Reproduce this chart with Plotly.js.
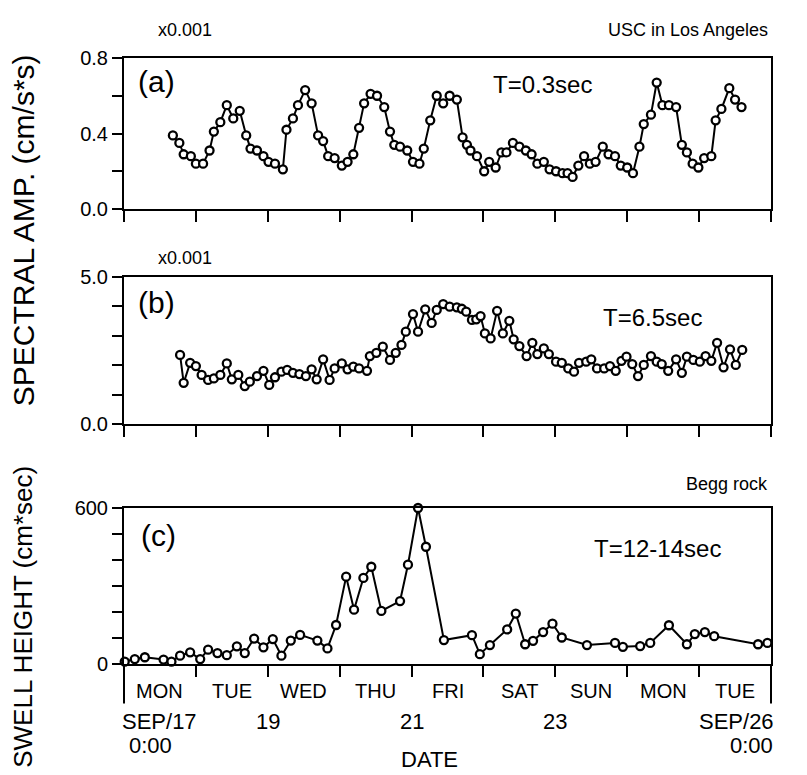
<!DOCTYPE html>
<html>
<head>
<meta charset="utf-8">
<script src="https://cdn.plot.ly/plotly-3.0.1.min.js"></script>
<style>html,body{margin:0;padding:0;background:#fff;}#chart{width:807px;height:775px;}</style>
</head>
<body>
<div id="chart"></div>
<script>
// x values in days since SEP/17 0:00
const aDay = [0.68,0.77,0.83,0.93,1.00,1.10,1.19,1.25,1.34,1.43,1.52,1.61,1.70,1.76,1.85,1.94,2.01,2.10,2.21,2.26,2.35,2.42,2.52,2.61,2.70,2.77,2.84,2.93,3.03,3.11,3.19,3.27,3.34,3.43,3.52,3.62,3.70,3.76,3.84,3.94,4.02,4.11,4.17,4.26,4.35,4.44,4.53,4.63,4.71,4.77,4.82,4.91,5.01,5.08,5.17,5.25,5.32,5.41,5.50,5.59,5.67,5.75,5.84,5.92,6.01,6.10,6.17,6.24,6.32,6.40,6.48,6.56,6.66,6.74,6.83,6.91,7.00,7.08,7.17,7.23,7.33,7.41,7.49,7.58,7.68,7.76,7.83,7.91,7.99,8.07,8.17,8.23,8.31,8.42,8.50,8.59];
const aVal = [0.39,0.35,0.29,0.28,0.24,0.24,0.31,0.41,0.46,0.55,0.48,0.52,0.39,0.32,0.31,0.28,0.25,0.24,0.21,0.42,0.48,0.55,0.63,0.56,0.39,0.36,0.28,0.27,0.23,0.25,0.29,0.43,0.56,0.61,0.60,0.54,0.41,0.34,0.33,0.31,0.25,0.24,0.32,0.47,0.60,0.56,0.60,0.58,0.38,0.34,0.31,0.28,0.20,0.25,0.22,0.30,0.30,0.35,0.33,0.31,0.29,0.24,0.25,0.21,0.20,0.19,0.19,0.17,0.23,0.28,0.24,0.25,0.33,0.29,0.28,0.23,0.22,0.19,0.33,0.45,0.50,0.67,0.55,0.55,0.54,0.34,0.30,0.24,0.22,0.27,0.28,0.47,0.53,0.64,0.58,0.54];

const bDay = [0.78,0.83,0.92,1.00,1.08,1.17,1.25,1.34,1.43,1.50,1.59,1.68,1.75,1.85,1.94,2.02,2.10,2.19,2.27,2.35,2.44,2.53,2.61,2.68,2.77,2.86,2.93,3.03,3.11,3.19,3.27,3.38,3.42,3.51,3.60,3.70,3.78,3.86,3.92,4.02,4.09,4.19,4.28,4.35,4.44,4.53,4.63,4.70,4.76,4.84,4.90,4.96,5.02,5.10,5.19,5.27,5.36,5.42,5.50,5.60,5.68,5.75,5.84,5.91,6.01,6.09,6.18,6.26,6.33,6.43,6.50,6.58,6.68,6.76,6.84,6.92,6.99,7.07,7.15,7.23,7.33,7.41,7.48,7.57,7.68,7.76,7.83,7.92,8.01,8.09,8.17,8.25,8.34,8.43,8.51,8.60];
const bVal = [2.35,1.40,2.08,1.97,1.67,1.50,1.55,1.67,2.06,1.52,1.67,1.29,1.44,1.63,1.81,1.33,1.59,1.78,1.84,1.74,1.70,1.63,1.86,1.52,2.20,1.50,1.89,2.06,1.86,1.95,1.89,1.81,2.31,2.42,2.63,2.18,2.42,2.69,3.14,3.74,3.14,3.90,3.44,3.88,4.08,3.99,3.97,3.92,3.82,3.54,3.56,3.67,3.08,2.91,3.85,3.08,3.51,2.88,2.65,2.31,2.76,2.38,2.57,2.38,2.12,2.08,1.89,1.78,2.08,2.12,2.20,1.89,1.89,1.97,1.81,2.15,2.29,2.04,1.63,2.01,2.31,2.12,2.04,1.81,2.20,1.74,2.29,2.18,2.12,2.31,2.15,2.76,1.93,2.54,2.01,2.52];

const cDay = [0.01,0.15,0.29,0.55,0.66,0.78,0.92,1.06,1.17,1.30,1.43,1.57,1.68,1.81,1.94,2.07,2.19,2.32,2.45,2.69,2.83,2.95,3.09,3.20,3.33,3.44,3.58,3.84,3.95,4.09,4.20,4.45,4.84,4.95,5.09,5.33,5.45,5.58,5.69,5.83,5.96,6.09,6.44,6.83,6.94,7.18,7.32,7.58,7.83,7.94,8.08,8.21,8.82,8.95];
const cVal = [9,19,26,17,9,32,45,19,55,42,34,68,42,98,64,96,32,90,112,90,60,150,336,209,331,374,204,242,382,600,451,92,111,38,73,133,194,76,89,123,155,102,73,81,66,69,81,149,76,115,123,107,76,81];

const dayTicks = [0,1,2,3,4,5,6,7,8,9];
const dayNames = ['MON','TUE','WED','THU','FRI','SAT','SUN','MON','TUE'];
const dateLabels = [[0.49,'SEP/17'],[2,'19'],[4,'21'],[6,'23']];

const aTicks = [0,0.2,0.4,0.6,0.8], aTickText = ['0.0','','0.4','','0.8'];
const bTicks = [0,1,2,3,4,5], bTickText = ['0.0','','','','','5.0'];
const cTicks = [0,100,200,300,400,500,600], cTickText = ['0','','','','','','600'];

const FONT = 'Liberation Sans, Arial, Helvetica, sans-serif';
const marker = {symbol:'circle', size:8, color:'#fff', line:{color:'#000', width:2.3}};
const line = {color:'#000', width:2};

const traces = [
  {x:aDay, y:aVal, xaxis:'x', yaxis:'y', mode:'lines+markers', line, marker, cliponaxis:false},
  {x:bDay, y:bVal, xaxis:'x2', yaxis:'y2', mode:'lines+markers', line, marker, cliponaxis:false},
  {x:cDay, y:cVal, xaxis:'x3', yaxis:'y3', mode:'lines+markers', line, marker, cliponaxis:false}
];

function xax(anchor){
  return {anchor, domain:[0,1], range:[0,9], tickvals:dayTicks, showticklabels:false,
    ticks:'outside', ticklen:11, tickwidth:2, tickcolor:'#000',
    showline:true, linewidth:2, linecolor:'#000', mirror:true,
    showgrid:false, zeroline:false, fixedrange:true};
}
function yax(anchor, domain, range, tv, tt){
  return {anchor, domain, range, tickvals:tv, ticktext:tt,
    ticks:'outside', ticklen:10, tickwidth:2, tickcolor:'#000',
    showline:true, linewidth:2, linecolor:'#000', mirror:true,
    showgrid:false, zeroline:false, tickfont:{size:20, color:'#000', family:FONT}};
}

const ann = [];
function A(text, x, y, size, opts){
  ann.push(Object.assign({text, x, y, xref:'paper', yref:'paper', showarrow:false,
    xanchor:'center', yanchor:'middle', font:{size, color:'#000', family:FONT}}, opts||{}));
}
// headers
A('x0.001', 0.094, 1.046, 18);
A('USC in Los Angeles', 0.998, 1.046, 18, {xanchor:'right'});
A('x0.001', 0.094, 0.670, 18);
A('Begg rock', 0.998, 0.297, 18, {xanchor:'right'});
// panel labels
A('(a)', 0.051, 0.962, 30);
A('(b)', 0.051, 0.597, 30);
A('(c)', 0.053, 0.212, 30);
A('T=0.3sec', 0.6476, 0.957, 24);
A('T=6.5sec', 0.8176, 0.5726, 24);
A('T=12-14sec', 0.825, 0.191, 24);
// y titles
A('SPECTRAL AMP. (cm/s*s)', -0.156, 0.716, 30, {textangle:-90});
A('SWELL HEIGHT (cm*sec)', -0.156, 0.078, 26, {textangle:-90});
// x labels
dayNames.forEach((d,i)=>{
  ann.push({text:d, x:i+0.5, y:-0.0446, xref:'x3', yref:'paper', showarrow:false,
    xanchor:'center', yanchor:'middle', font:{size:20, color:'#000', family:FONT}});
});
dateLabels.forEach(([x,t])=>{
  ann.push({text:t, x, y:-0.0957, xref:'x3', yref:'paper', showarrow:false,
    xanchor:'center', yanchor:'middle', font:{size:22, color:'#000', family:FONT}});
});
ann.push({text:'0:00', x:0.375, y:-0.135, xref:'x3', yref:'paper', showarrow:false,
  xanchor:'center', yanchor:'middle', font:{size:22, color:'#000', family:FONT}});
A('SEP/26', 1.008, -0.0957, 22, {xanchor:'right'});
A('0:00', 1.006, -0.135, 22, {xanchor:'right'});
A('DATE', 0.472, -0.158, 22);

const layout = {
  width:807, height:775,
  margin:{l:124, r:36, t:58, b:111},
  paper_bgcolor:'#fff', plot_bgcolor:'#fff',
  showlegend:false,
  font:{family:FONT, color:'#000'},
  xaxis:xax('y'), xaxis2:xax('y2'), xaxis3:xax('y3'),
  yaxis:yax('x', [0.7508,1], [0,0.8], aTicks, aTickText),
  yaxis2:yax('x2', [0.396,0.6386], [0,5], bTicks, bTickText),
  yaxis3:yax('x3', [0,0.2574], [0,600], cTicks, cTickText),
  annotations:ann,
  shapes:[
    {type:'line', xref:'paper', yref:'paper', x0:0, x1:0, y0:0, y1:-0.065, line:{color:'#000', width:2}},
    {type:'line', xref:'paper', yref:'paper', x0:1, x1:1, y0:0, y1:-0.065, line:{color:'#000', width:2}}
  ]
};

Plotly.newPlot('chart', traces, layout, {staticPlot:true, displayModeBar:false});
</script>
</body>
</html>
